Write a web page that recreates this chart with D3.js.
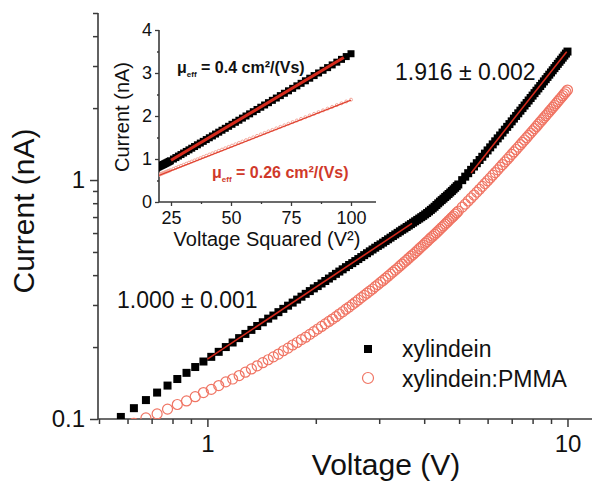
<!DOCTYPE html>
<html>
<head>
<meta charset="utf-8">
<script src="https://cdn.jsdelivr.net/npm/d3@7"></script>
<style>
  body { margin: 0; background: #fff; }
  svg text { font-family: "Liberation Sans", Arial, sans-serif; }
</style>
</head>
<body>
<div class="chart"></div>
<script>
var svgWidth = 592;
var svgHeight = 481;

// Voltage (V) of each measured point
var voltage = [
  0.575, 0.625, 0.675, 0.725, 0.775, 0.825, 0.875, 0.925, 0.975, 1.025,
  1.075, 1.125, 1.175, 1.225, 1.275, 1.325, 1.375, 1.425, 1.475, 1.525,
  1.575, 1.625, 1.675, 1.725, 1.775, 1.825, 1.875, 1.925, 1.975, 2.025,
  2.075, 2.125, 2.175, 2.225, 2.275, 2.325, 2.375, 2.425, 2.475, 2.525,
  2.575, 2.625, 2.675, 2.725, 2.775, 2.825, 2.875, 2.925, 2.975, 3.025,
  3.075, 3.125, 3.175, 3.225, 3.275, 3.325, 3.375, 3.425, 3.475, 3.525,
  3.575, 3.625, 3.675, 3.725, 3.775, 3.825, 3.875, 3.925, 3.975, 4.025,
  4.075, 4.125, 4.175, 4.225, 4.275, 4.325, 4.375, 4.425, 4.475, 4.525,
  4.575, 4.625, 4.675, 4.725, 4.775, 4.825, 4.875, 4.925, 4.975,
  5.1, 5.2, 5.3, 5.4, 5.5, 5.6, 5.7, 5.8, 5.9, 6.0,
  6.1, 6.2, 6.3, 6.4, 6.5, 6.6, 6.7, 6.8, 6.9, 7.0,
  7.1, 7.2, 7.3, 7.4, 7.5, 7.6, 7.7, 7.8, 7.9, 8.0,
  8.1, 8.2, 8.3, 8.4, 8.5, 8.6, 8.7, 8.8, 8.9, 9.0,
  9.1, 9.2, 9.3, 9.4, 9.5, 9.6, 9.7, 9.8, 9.9, 10.0
];

// Current (nA), xylindein
var xylindein = [
  0.102, 0.111, 0.120, 0.129, 0.138, 0.147, 0.156, 0.165, 0.174, 0.182,
  0.191, 0.200, 0.209, 0.218, 0.227, 0.236, 0.245, 0.254, 0.263, 0.271,
  0.280, 0.289, 0.298, 0.307, 0.316, 0.325, 0.334, 0.343, 0.352, 0.360,
  0.369, 0.378, 0.387, 0.396, 0.405, 0.414, 0.423, 0.432, 0.441, 0.449,
  0.458, 0.467, 0.476, 0.485, 0.494, 0.503, 0.512, 0.521, 0.530, 0.538,
  0.547, 0.556, 0.565, 0.574, 0.583, 0.592, 0.601, 0.610, 0.619, 0.627,
  0.636, 0.645, 0.654, 0.663, 0.672, 0.681, 0.690, 0.699, 0.708, 0.718,
  0.728, 0.739, 0.750, 0.761, 0.773, 0.786, 0.799, 0.812, 0.824, 0.836,
  0.849, 0.861, 0.874, 0.887, 0.900, 0.914, 0.928, 0.943, 0.958,
  0.999, 1.033, 1.068, 1.103, 1.139, 1.176, 1.213, 1.251, 1.290, 1.330,
  1.370, 1.410, 1.452, 1.494, 1.536, 1.580, 1.624, 1.669, 1.714, 1.760,
  1.807, 1.854, 1.902, 1.951, 2.000, 2.050, 2.100, 2.152, 2.204, 2.256,
  2.310, 2.364, 2.418, 2.474, 2.529, 2.586, 2.643, 2.701, 2.760, 2.819,
  2.879, 2.940, 3.001, 3.063, 3.125, 3.188, 3.252, 3.317, 3.382, 3.448
];

// Current (nA), xylindein:PMMA
var xylPMMA = [
  0.092, 0.096, 0.101, 0.105, 0.110, 0.115, 0.119, 0.124, 0.129, 0.133,
  0.138, 0.143, 0.147, 0.152, 0.157, 0.162, 0.167, 0.172, 0.177, 0.182,
  0.187, 0.193, 0.198, 0.204, 0.209, 0.215, 0.220, 0.226, 0.232, 0.238,
  0.244, 0.250, 0.256, 0.262, 0.268, 0.275, 0.281, 0.288, 0.294, 0.301,
  0.308, 0.315, 0.322, 0.329, 0.336, 0.343, 0.350, 0.358, 0.365, 0.373,
  0.380, 0.388, 0.396, 0.404, 0.412, 0.420, 0.428, 0.437, 0.445, 0.454,
  0.462, 0.471, 0.480, 0.488, 0.497, 0.506, 0.516, 0.525, 0.534, 0.544,
  0.553, 0.563, 0.573, 0.582, 0.592, 0.602, 0.612, 0.622, 0.633, 0.643,
  0.654, 0.664, 0.675, 0.686, 0.697, 0.707, 0.719, 0.730, 0.741,
  0.770, 0.793, 0.817, 0.841, 0.865, 0.890, 0.915, 0.941, 0.967, 0.993,
  1.020, 1.048, 1.075, 1.103, 1.132, 1.161, 1.190, 1.219, 1.249, 1.280,
  1.311, 1.342, 1.373, 1.406, 1.438, 1.471, 1.504, 1.538, 1.572, 1.606,
  1.641, 1.676, 1.712, 1.748, 1.784, 1.821, 1.859, 1.896, 1.934, 1.973,
  2.012, 2.051, 2.091, 2.131, 2.171, 2.212, 2.254, 2.295, 2.337, 2.380
];

// fitted lines [V, I] (main) and [V^2, I] (inset)
var fitOhmic = [[1.0, 0.178], [3.7, 0.659]];
var fitPower = [[5.4, 1.07], [9.95, 3.44]];
var insetFitBlack = [[25, 0.97], [97, 3.36]];
var insetFitRed = [[20, 0.62], [100, 2.37]];

// tick values
var xMajorTicks = [1, 10];
var xMinorTicks = [0.5, 0.6, 0.7, 0.8, 0.9, 2, 3, 4, 5, 6, 7, 8, 9];
var yMajorTicks = [0.1, 1];
var yMinorTicks = [0.2, 0.3, 0.4, 0.5, 0.6, 0.7, 0.8, 0.9, 2, 3, 4, 5];
var insetXTicks = [25, 50, 75, 100];
var insetXMinor = [37.5, 62.5, 87.5];
var insetYTicks = [0, 1, 2, 3, 4];
var insetYMinor = [0.5, 1.5, 2.5, 3.5];

var black = "#000";
var pink = "#f07564";
var fitRed = "#d42a1c";
var textRed = "#d0392a";
var axisColor = "#3a3a3a";

var svg = d3.select(".chart")
  .append("svg")
  .attr("width", svgWidth)
  .attr("height", svgHeight);

// Step 1: Main scales (log-log)
// ==============================
var xScale = d3.scaleLog().domain([0.5, 12]).range([99, 596]);
var yScale = d3.scaleLog().domain([0.1, 5]).range([419, 13]);

svg.append("clipPath").attr("id", "mainClip")
  .append("rect").attr("x", 98).attr("y", 0).attr("width", 494).attr("height", 419);

// Step 2: Main axes
// ==============================
var xAxisG = svg.append("g").attr("transform", "translate(0,419)");
xAxisG.append("line").attr("x1", 98).attr("x2", 592).attr("y1", 0).attr("y2", 0)
  .attr("stroke", axisColor).attr("stroke-width", 1.6);
var xMajG = xAxisG.append("g")
  .call(d3.axisBottom(xScale).tickValues(xMajorTicks).tickSize(8).tickPadding(8).tickFormat(d3.format("d")));
var xMinG = xAxisG.append("g")
  .call(d3.axisBottom(xScale).tickValues(xMinorTicks).tickSize(5).tickFormat(""));

var yAxisG = svg.append("g").attr("transform", "translate(98,0)");
yAxisG.append("line").attr("x1", 0).attr("x2", 0).attr("y1", 13).attr("y2", 419)
  .attr("stroke", axisColor).attr("stroke-width", 1.6);
var yMajG = yAxisG.append("g")
  .call(d3.axisLeft(yScale).tickValues(yMajorTicks).tickSize(8).tickPadding(5).tickFormat(d => d));
var yMinG = yAxisG.append("g")
  .call(d3.axisLeft(yScale).tickValues(yMinorTicks).tickSize(5).tickFormat(""));

[xMajG, xMinG, yMajG, yMinG].forEach(function (g) {
  g.select(".domain").remove();
  g.selectAll(".tick line").attr("stroke", axisColor).attr("stroke-width", 1.5);
  g.selectAll(".tick text").attr("font-size", 24).attr("fill", "#111")
    .style("font-family", "'Liberation Sans', Arial, sans-serif");
});

// axis titles
svg.append("text")
  .attr("x", 386).attr("y", 475)
  .attr("text-anchor", "middle").attr("font-size", 30).attr("fill", "#111")
  .text("Voltage (V)");

svg.append("text")
  .attr("transform", "translate(34,211) rotate(-90)")
  .attr("text-anchor", "middle").attr("font-size", 30).attr("fill", "#111")
  .text("Current (nA)");

// Step 3: Main data
// ==============================
var mainPlot = svg.append("g").attr("clip-path", "url(#mainClip)");

mainPlot.selectAll(".pmma")
  .data(voltage)
  .enter()
  .append("circle")
  .attr("class", "pmma")
  .attr("cx", d => xScale(d))
  .attr("cy", (d, i) => yScale(xylPMMA[i]))
  .attr("r", 5)
  .attr("fill", "none")
  .attr("stroke", pink)
  .attr("stroke-width", 1.2);

mainPlot.selectAll(".xyl")
  .data(voltage)
  .enter()
  .append("rect")
  .attr("class", "xyl")
  .attr("x", d => xScale(d) - 4)
  .attr("y", (d, i) => yScale(xylindein[i]) - 4)
  .attr("width", 8)
  .attr("height", 8)
  .attr("fill", black);

var mainLine = d3.line().x(d => xScale(d[0])).y(d => yScale(d[1]));
mainPlot.append("path").attr("d", mainLine(fitOhmic))
  .attr("fill", "none").attr("stroke", fitRed).attr("stroke-width", 1.6);
mainPlot.append("path").attr("d", mainLine(fitPower))
  .attr("fill", "none").attr("stroke", fitRed).attr("stroke-width", 1.6);

// slope labels
svg.append("text").attr("x", 395).attr("y", 80)
  .attr("font-size", 23).attr("fill", "#111").text("1.916 ± 0.002");
svg.append("text").attr("x", 117).attr("y", 308)
  .attr("font-size", 23).attr("fill", "#111").text("1.000 ± 0.001");

// legend
svg.append("rect").attr("x", 364).attr("y", 345).attr("width", 8).attr("height", 8).attr("fill", black);
svg.append("text").attr("x", 402).attr("y", 357).attr("font-size", 23).attr("fill", "#111").text("xylindein");
svg.append("circle").attr("cx", 368).attr("cy", 378).attr("r", 5.5)
  .attr("fill", "none").attr("stroke", pink).attr("stroke-width", 1.2);
svg.append("text").attr("x", 402).attr("y", 387).attr("font-size", 23).attr("fill", "#111").text("xylindein:PMMA");

// Step 4: Inset (current vs voltage squared)
// ==============================
var xi = d3.scaleLinear().domain([20, 110]).range([159, 375]);
var yi = d3.scaleLinear().domain([0, 4]).range([202, 30]);

svg.append("clipPath").attr("id", "insetClip")
  .append("rect").attr("x", 159).attr("y", 25).attr("width", 220).attr("height", 177);

var inset = svg.append("g");

var ixMaj = inset.append("g").attr("transform", "translate(0,202)")
  .call(d3.axisBottom(xi).tickValues(insetXTicks).tickSize(4).tickPadding(5));
var ixMin = inset.append("g").attr("transform", "translate(0,202)")
  .call(d3.axisBottom(xi).tickValues(insetXMinor).tickSize(2).tickFormat(""));
var iyMaj = inset.append("g").attr("transform", "translate(159,0)")
  .call(d3.axisLeft(yi).tickValues(insetYTicks).tickSize(4).tickPadding(3).tickFormat(d3.format("d")));
var iyMin = inset.append("g").attr("transform", "translate(159,0)")
  .call(d3.axisLeft(yi).tickValues(insetYMinor).tickSize(2).tickFormat(""));

[ixMaj, ixMin, iyMaj, iyMin].forEach(function (g) {
  g.select(".domain").remove();
  g.selectAll(".tick line").attr("stroke", axisColor).attr("stroke-width", 1.3);
  g.selectAll(".tick text").attr("font-size", 18).attr("fill", "#111")
    .style("font-family", "'Liberation Sans', Arial, sans-serif");
});
inset.append("line").attr("x1", 159).attr("x2", 376).attr("y1", 202).attr("y2", 202)
  .attr("stroke", axisColor).attr("stroke-width", 1.6);
inset.append("line").attr("x1", 159).attr("x2", 159).attr("y1", 30).attr("y2", 202)
  .attr("stroke", axisColor).attr("stroke-width", 1.6);

inset.append("text")
  .attr("transform", "translate(129,117) rotate(-90)")
  .attr("text-anchor", "middle").attr("font-size", 20).attr("fill", "#111")
  .text("Current (nA)");
inset.append("text")
  .attr("x", 267).attr("y", 246)
  .attr("text-anchor", "middle").attr("font-size", 20).attr("fill", "#111")
  .text("Voltage Squared (V²)");

var insetPlot = inset.append("g").attr("clip-path", "url(#insetClip)");

insetPlot.selectAll(".ipmma")
  .data(voltage)
  .enter()
  .append("circle")
  .attr("class", "ipmma")
  .attr("cx", d => xi(d * d))
  .attr("cy", (d, i) => yi(xylPMMA[i]))
  .attr("r", 1.5)
  .attr("fill", "none")
  .attr("stroke", "#f4a79b")
  .attr("stroke-width", 1);

insetPlot.selectAll(".ixyl")
  .data(voltage)
  .enter()
  .append("rect")
  .attr("class", "ixyl")
  .attr("x", d => xi(d * d) - 3.5)
  .attr("y", (d, i) => yi(xylindein[i]) - 3.5)
  .attr("width", 7)
  .attr("height", 7)
  .attr("fill", black);

var insetLine = d3.line().x(d => xi(d[0])).y(d => yi(d[1]));
insetPlot.append("path").attr("d", insetLine(insetFitBlack))
  .attr("fill", "none").attr("stroke", fitRed).attr("stroke-width", 3);
insetPlot.append("path").attr("d", insetLine(insetFitRed))
  .attr("fill", "none").attr("stroke", "#e0402e").attr("stroke-width", 1.2);

// mobility labels
function muLabel(x, y, value, color) {
  var t = inset.append("text").attr("x", x).attr("y", y)
    .attr("font-size", 16).attr("font-weight", "bold").attr("fill", color);
  t.append("tspan").text("μ");
  t.append("tspan").attr("dy", 4).attr("font-size", 8).text("eff");
  t.append("tspan").attr("dy", -4).text(" = " + value + " cm²/(Vs)");
}
muLabel(177, 73, "0.4", "#111");
muLabel(212, 178, "0.26", textRed);
</script>
</body>
</html>
